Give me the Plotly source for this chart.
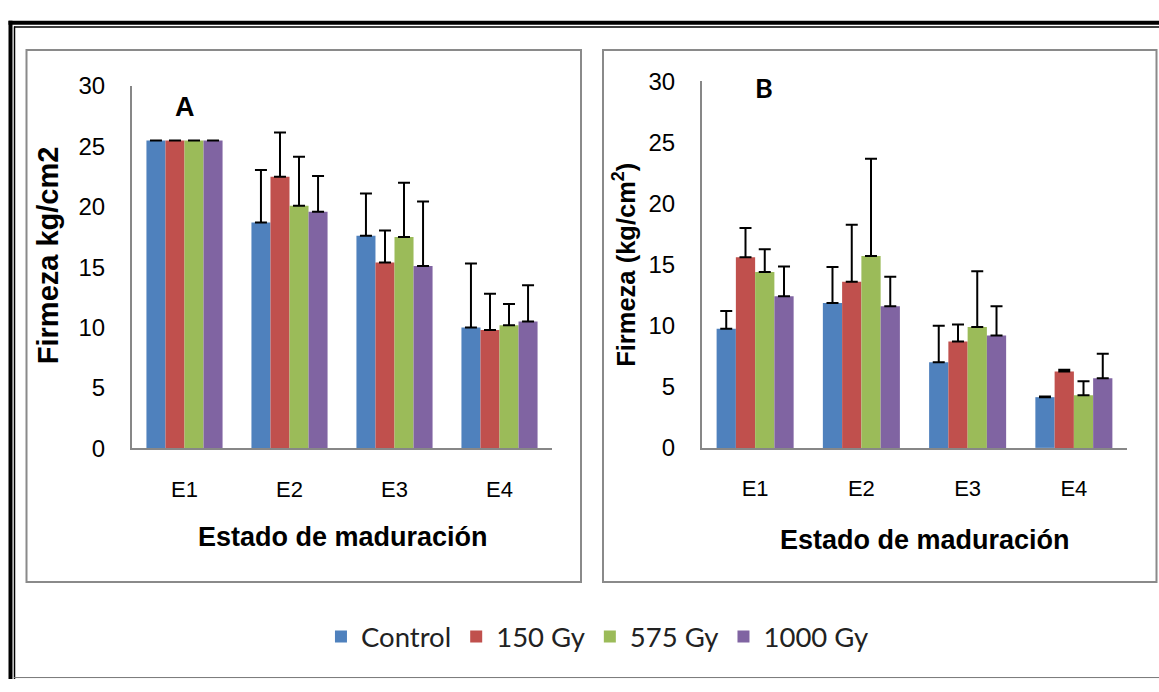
import plotly.graph_objects as go

W, H = 1159, 692

stages = ["E1", "E2", "E3", "E4"]
series = ["Control", "150 Gy", "575 Gy", "1000 Gy"]
colors = ["#4F81BD", "#C0504D", "#9BBB59", "#8064A2"]

# Panel A: firmness (kg/cm2) and upper error (None = no error bar)
firm_a = {
    "Control": [25.5, 18.7, 17.6, 10.0],
    "150 Gy": [25.5, 22.5, 15.4, 9.8],
    "575 Gy": [25.5, 20.1, 17.5, 10.2],
    "1000 Gy": [25.5, 19.6, 15.1, 10.5],
}
err_a = {
    "Control": [None, 4.35, 3.5, 5.3],
    "150 Gy": [None, 3.65, 2.65, 3.0],
    "575 Gy": [None, 4.05, 4.5, 1.75],
    "1000 Gy": [None, 2.95, 5.35, 3.0],
}

# Panel B: firmness (kg/cm2) and upper error
firm_b = {
    "Control": [9.75, 11.85, 7.0, 4.15],
    "150 Gy": [15.6, 13.6, 8.7, 6.25],
    "575 Gy": [14.4, 15.7, 9.9, 4.3],
    "1000 Gy": [12.4, 11.6, 9.2, 5.7],
}
err_b = {
    "Control": [1.45, 2.95, 3.0, 0.05],
    "150 Gy": [2.4, 4.65, 1.4, 0.15],
    "575 Gy": [1.85, 7.95, 4.55, 1.15],
    "1000 Gy": [2.45, 2.4, 2.4, 2.0],
}

y_ticks = [0, 5, 10, 15, 20, 25, 30]


def px_x(x):
    return x / W


def px_y(y):
    return 1 - y / H


fig = go.Figure()

for name, col in zip(series, colors):
    fig.add_trace(go.Bar(
        x=stages, y=firm_a[name], name=name, marker_color=col,
        marker_line_width=0, legendgroup=name, showlegend=True,
        error_y=dict(type="data", symmetric=False, array=err_a[name],
                     arrayminus=[0] * 4, color="black", thickness=2, width=6),
        xaxis="x", yaxis="y",
    ))
for name, col in zip(series, colors):
    fig.add_trace(go.Bar(
        x=stages, y=firm_b[name], name=name, marker_color=col,
        marker_line_width=0, legendgroup=name, showlegend=False,
        error_y=dict(type="data", symmetric=False, array=err_b[name],
                     arrayminus=[0] * 4, color="black", thickness=2, width=6),
        xaxis="x2", yaxis="y2",
    ))

sans = "Liberation Sans, Arial, sans-serif"
axis_font = dict(family=sans, size=24, color="black")

common_y = dict(range=[0, 30], tickvals=y_ticks, showgrid=False, zeroline=False,
                showline=True, linecolor="#878787", linewidth=2, ticks="",
                tickfont=axis_font, ticklabelstandoff=20, fixedrange=True)
common_x = dict(showgrid=False, zeroline=False, showline=True, linecolor="#878787",
                linewidth=2, ticks="", tickfont=dict(family=sans, size=22, color="black"),
                ticklabelstandoff=20, fixedrange=True)

fig.update_layout(
    width=W, height=H,
    margin=dict(l=0, r=0, t=0, b=0),
    paper_bgcolor="white", plot_bgcolor="white",
    barmode="group", bargap=0.275, bargroupgap=0,
    xaxis=dict(common_x, domain=[px_x(132), px_x(552)], anchor="y"),
    yaxis=dict(common_y, domain=[px_y(452), px_y(75)], anchor="x"),
    xaxis2=dict(common_x, domain=[px_x(702), px_x(1127)], anchor="y2"),
    yaxis2=dict(common_y, domain=[px_y(451.5), px_y(70)], anchor="x2"),
    legend=dict(orientation="h", x=0.5155, y=px_y(648), xanchor="center", yanchor="middle",
                font=dict(family="Lato, Open Sans, sans-serif", size=27.5, color="#222"),
                itemwidth=30, tracegroupgap=0, bgcolor="rgba(0,0,0,0)"),
)

annotations = [
    dict(text="<b>Estado de maduración</b>", x=px_x(343), y=px_y(544),
         font=dict(family=sans, size=27, color="black")),
    dict(text="<b>Estado de maduración</b>", x=px_x(925), y=px_y(547),
         font=dict(family=sans, size=27, color="black")),
    dict(text="<b>Firmeza kg/cm2</b>", x=px_x(48), y=px_y(251), textangle=-90,
         font=dict(family=sans, size=29, color="black")),
    dict(text="<b>Firmeza (kg/cm<sup>2</sup>)</b>", x=px_x(624), y=px_y(261), textangle=-90,
         font=dict(family=sans, size=25.5, color="black")),
    dict(text="<b>A</b>", x=px_x(185), y=px_y(97),
         font=dict(family=sans, size=27, color="black")),
    dict(text="<b>B</b>", x=px_x(764), y=px_y(76),
         font=dict(family="Lato, Open Sans, sans-serif", size=27, color="black")),
]
for a in annotations:
    a.update(xref="paper", yref="paper", showarrow=False, xanchor="center", yanchor="middle")
fig.update_layout(annotations=annotations)

# Panel frames and outer double border
shapes = [
    dict(type="rect", x0=px_x(26.5), x1=px_x(581), y0=px_y(37.5), y1=px_y(591),
         line=dict(color="#8a8a8a", width=2)),
    dict(type="rect", x0=px_x(603), x1=px_x(1156.5), y0=px_y(37.5), y1=px_y(591),
         line=dict(color="#8a8a8a", width=2)),
    dict(type="line", x0=px_x(10.5), x1=px_x(10.5), y0=px_y(7), y1=px_y(692),
         line=dict(color="black", width=4)),
    dict(type="line", x0=px_x(14.5), x1=px_x(14.5), y0=px_y(13), y1=px_y(692),
         line=dict(color="black", width=1.5)),
    dict(type="line", x0=px_x(8.5), x1=px_x(1159), y0=px_y(9), y1=px_y(9),
         line=dict(color="black", width=4)),
    dict(type="line", x0=px_x(14), x1=px_x(1159), y0=px_y(13.5), y1=px_y(13.5),
         line=dict(color="black", width=1.5)),
    dict(type="line", x0=px_x(14), x1=px_x(1159), y0=px_y(690.5), y1=px_y(690.5),
         line=dict(color="#777", width=1)),
]
for s in shapes:
    s.update(xref="paper", yref="paper", layer="above")
fig.update_layout(shapes=shapes)

fig.write_html(
    "out.html",
    post_script="document.body.style.margin='0';document.body.style.overflow='hidden';",
)
